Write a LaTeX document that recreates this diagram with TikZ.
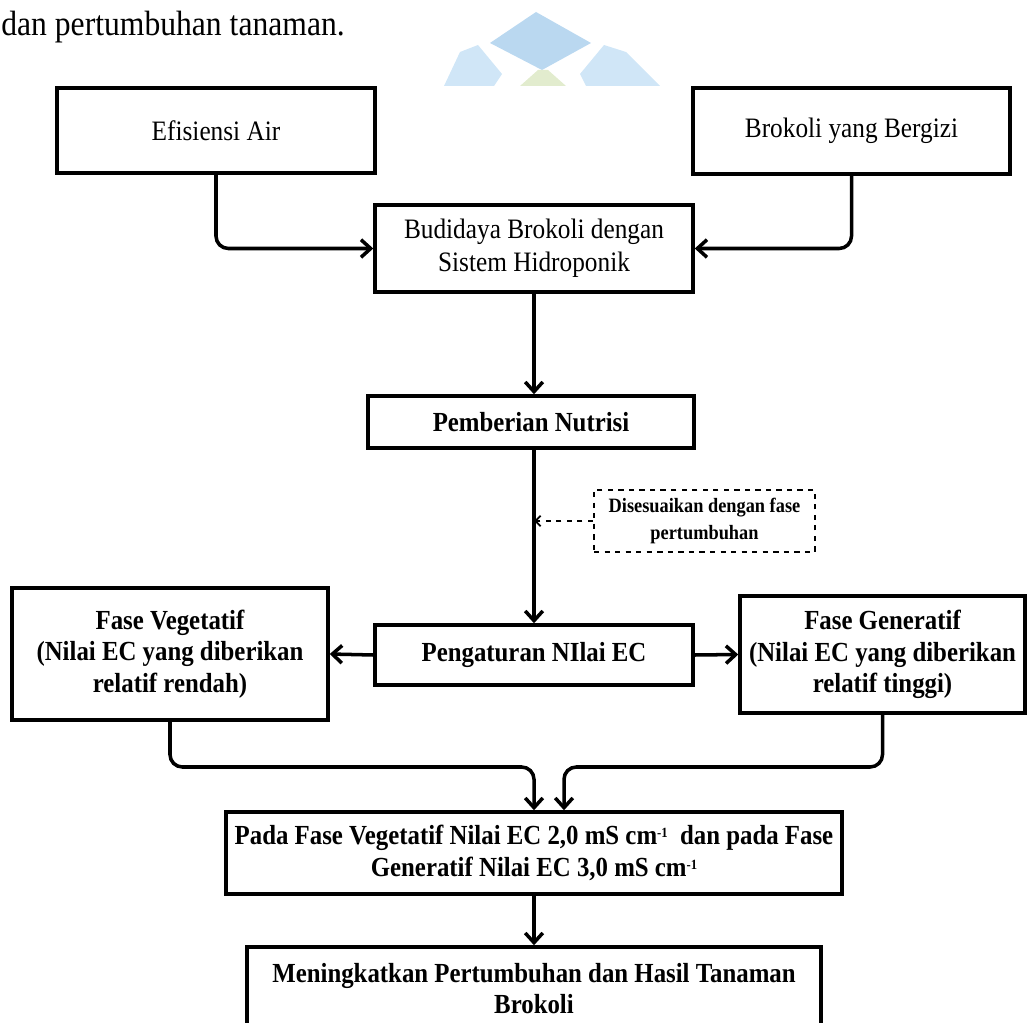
\documentclass[tikz,border=0pt]{standalone}
\usepackage{fontspec}
\setmainfont{Liberation Serif}[FakeStretch=0.9]
\usetikzlibrary{arrows.meta}

\definecolor{logoblue}{RGB}{186,216,240}
\definecolor{logolight}{RGB}{208,230,247}
\definecolor{logogreen}{RGB}{226,236,206}

\newcommand{\minusone}{{\fontsize{8}{8}\selectfont\raisebox{1.1ex}{-1}}}

\begin{document}
\begin{tikzpicture}[x=0.02cm, y=-0.02cm,
    box/.style={draw, line width=2pt, align=center, inner sep=0pt, font=\fontsize{16}{19}\selectfont},
    boldbox/.style={box, font=\fontsize{15.7}{18}\selectfont\bfseries},
    notebox/.style={draw, dashed, line width=1.2pt, align=center, inner sep=0pt, font=\fontsize{11.6}{15}\selectfont\bfseries},
    arr/.style={line width=2pt, -{Straight Barb[length=5.5pt,width=10pt]}, rounded corners=7pt},
    darr/.style={line width=1.1pt, dashed, -{Straight Barb[length=3pt,width=6pt]}}]
    \useasboundingbox (0,0) rectangle (1027,1023);
    \clip (0,0) rectangle (1027,1023);

    % page text and faint logo behind the figure
    \node[anchor=base west, inner sep=0pt, font=\fontsize{20}{22}\selectfont] (head) at (1,36) {dan pertumbuhan tanaman.};
    \fill[logoblue] (536,12) -- (591,43) -- (542,70) -- (490,43) -- cycle;
    \fill[logolight] (444,86) -- (460,52) -- (478,45) -- (502,74) -- (494,86) -- cycle;
    \fill[logolight] (586,86) -- (580,74) -- (604,45) -- (626,52) -- (660,86) -- cycle;
    \fill[logogreen] (520,86) -- (538,70) -- (548,70) -- (566,86) -- cycle;

    % boxes
    \node[box, minimum width=6.36cm, minimum height=1.70cm] (eff) at (216,130.5) {Efisiensi Air};
    \node[box, minimum width=6.34cm, minimum height=1.72cm] (brok) at (851.5,131) {Brokoli yang Bergizi};
    \node[box, minimum width=6.36cm, minimum height=1.74cm] (budi) at (534,248.5) {Budidaya Brokoli dengan\\Sistem Hidroponik};
    \node[boldbox, minimum width=6.52cm, minimum height=1.04cm] (nutr) at (531,422) {Pemberian Nutrisi};
    \node[notebox, minimum width=4.42cm, minimum height=1.24cm] (note) at (704.5,521) {Disesuaikan dengan fase\\pertumbuhan};
    \node[boldbox, minimum width=6.36cm, minimum height=1.20cm] (ec) at (534,655) {Pengaturan NIlai EC};
    \node[boldbox, minimum width=6.32cm, minimum height=2.64cm] (veg) at (170,654) {Fase Vegetatif\\(Nilai EC yang diberikan\\relatif rendah)};
    \node[boldbox, minimum width=5.70cm, minimum height=2.34cm] (gen) at (882.5,654.5) {Fase Generatif\\(Nilai EC yang diberikan\\relatif tinggi)};
    \node[boldbox, minimum width=12.32cm, minimum height=1.64cm] (pada) at (534,853) {Pada Fase Vegetatif Nilai EC 2,0 mS cm\minusone\ \ dan pada Fase\\Generatif Nilai EC 3,0 mS cm\minusone};
    \node[boldbox, minimum width=11.48cm, minimum height=1.66cm] (hasil) at (534,988.5) {Meningkatkan Pertumbuhan dan Hasil Tanaman\\Brokoli};

    \coordinate (mergeL) at (534,767);
    \coordinate (mergeR) at (564,767);

    % connectors
    \draw[arr] (eff.south) |- (budi.west);
    \draw[arr] (brok.south) |- (budi.east);
    \draw[arr] (budi.south) -- (budi.south |- nutr.north);
    \draw[arr] (nutr.south -| ec.north) -- (ec.north);
    \draw[darr] (note.west) -- (note.west -| ec.north);
    \draw[arr] (ec.west) -- (veg.east);
    \draw[arr] (ec.east) -- (gen.west);
    \draw[arr] (veg.south) |- (mergeL) -- (pada.north);
    \draw[arr] (gen.south) |- (mergeR) -- (mergeR |- pada.north);
    \draw[arr] (pada.south) -- (hasil.north);
\end{tikzpicture}
\end{document}
